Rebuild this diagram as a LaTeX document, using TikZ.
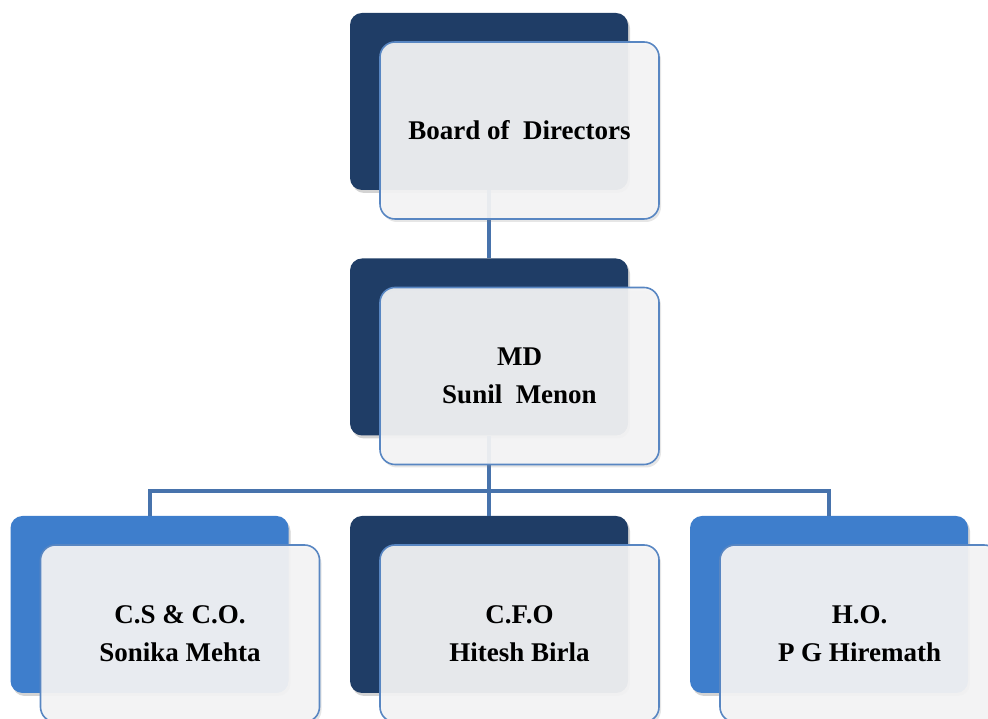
\documentclass[tikz,border=0pt]{standalone}
\usepackage{fontspec}
\setmainfont{Liberation Serif}
\usetikzlibrary{calc,shadows}
\definecolor{navy}{RGB}{31,61,102}
\definecolor{skyblue}{RGB}{62,126,204}
\definecolor{cardfill}{RGB}{244,244,245}
\definecolor{cardline}{RGB}{88,134,194}
\definecolor{linkblue}{RGB}{71,115,172}

\begin{document}
\begin{tikzpicture}[x=1pt,y=1pt,
    backbox/.style={rectangle, rounded corners=12pt, minimum width=278pt,
      minimum height=177pt, inner sep=0pt, fill=#1,
      drop shadow={opacity=0.35, shadow xshift=2pt, shadow yshift=-3pt}},
    frontbox/.style={rectangle, rounded corners=15pt, minimum width=279pt,
      minimum height=177pt, inner sep=0pt, draw=cardline, line width=1.6pt,
      fill=cardfill, fill opacity=0.93, text opacity=1, align=center,
      font=\bfseries\fontsize{27}{38}\selectfont,
      drop shadow={opacity=0.2, shadow xshift=2pt, shadow yshift=-3pt}},
    link/.style={draw=linkblue, line width=4pt}
  ]
    \useasboundingbox (0,0) rectangle (988,719);

    % back cards
    \foreach \n/\x/\y/\c in {board/489/617.5/navy, md/489/372/navy,
        cs/149.5/114.5/skyblue, cfo/489/114.5/navy, ho/829/114.5/skyblue}
      {\node[backbox=\c] (\n) at (\x,\y) {};}

    % connectors
    \coordinate (bus) at ($(md.south)+(0,-55)$);
    \path[link] (board.south) -- (md.north);
    \path[link] (md.south) -- (bus);
    \path[link] (cs.north) |- (bus) -| (ho.north);
    \path[link] (bus) -- (cfo.north);

    % front cards
    \node[frontbox] (boardf) at ($(board)+(30.5,-29)$) {Board of \ Directors};
    \node[frontbox] (mdf)    at ($(md)+(30.5,-29)$)    {MD\\Sunil \ Menon};
    \node[frontbox] (csf)    at ($(cs)+(30.5,-29)$)    {C.S \& C.O.\\Sonika Mehta};
    \node[frontbox] (cfof)   at ($(cfo)+(30.5,-29)$)   {C.F.O\\Hitesh Birla};
    \node[frontbox] (hof)    at ($(ho)+(30.5,-29)$)    {H.O.\\P G Hiremath};
\end{tikzpicture}
\end{document}
